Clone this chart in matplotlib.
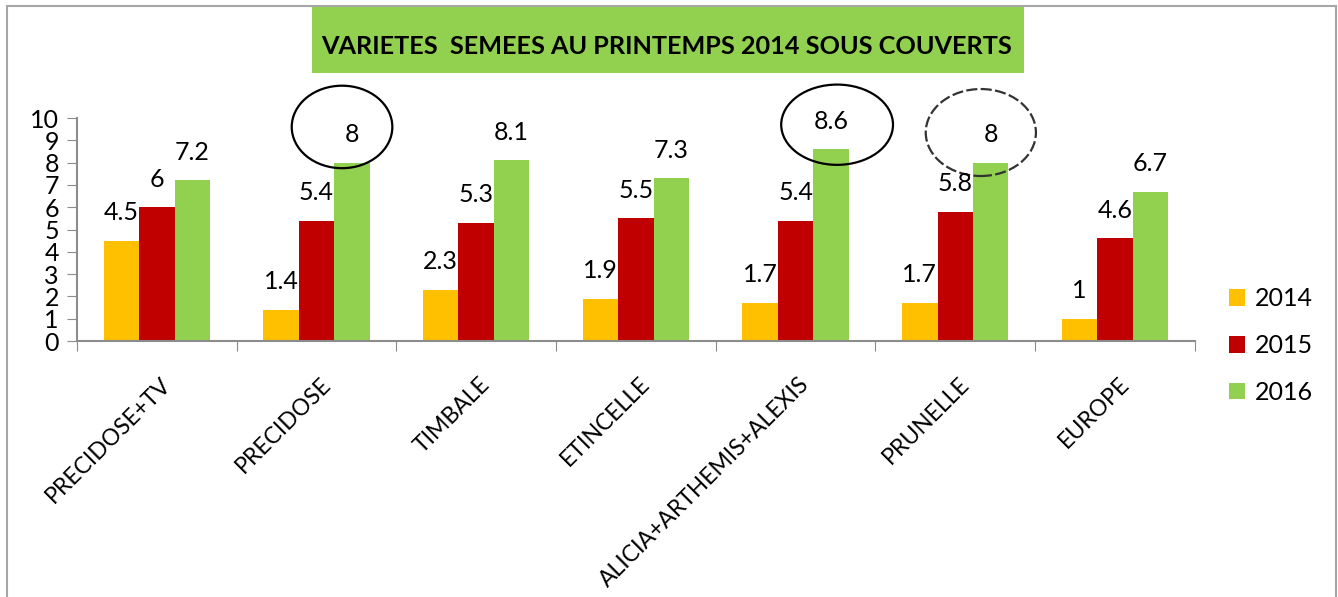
import matplotlib.pyplot as plt
from matplotlib.patches import Ellipse, Rectangle
import numpy as np

plt.rcParams['font.family'] = ['Lato', 'DejaVu Sans']

varietes = ['PRECIDOSE+TV', 'PRECIDOSE', 'TIMBALE', 'ETINCELLE',
            'ALICIA+ARTHEMIS+ALEXIS', 'PRUNELLE', 'EUROPE']
v2014 = [4.5, 1.4, 2.3, 1.9, 1.7, 1.7, 1]
v2015 = [6, 5.4, 5.3, 5.5, 5.4, 5.8, 4.6]
v2016 = [7.2, 8, 8.1, 7.3, 8.6, 8, 6.7]
annees = ['2014', '2015', '2016']
couleurs = ['#FFC000', '#C00000', '#92D050']

fig = plt.figure(figsize=(13.38, 5.97), dpi=100)
ax = fig.add_axes([0.0575, 0.4288, 0.8355, 0.3735])

# cadre gris autour du graphique
fig.patches.append(Rectangle((7 / 1338, -0.1), 1329 / 1338, 1.1 - 6 / 597,
                             transform=fig.transFigure, fill=False,
                             edgecolor='#a6a6a6', linewidth=1.5))

x = np.arange(len(varietes))
w = 0.222
for k, (vals, c, lab) in enumerate(zip([v2014, v2015, v2016], couleurs, annees)):
    pos = x + (k - 1) * w
    ax.bar(pos, vals, width=w, color=c, label=lab)
    for xi, v in zip(pos, vals):
        ax.annotate('%g' % v, (xi, v), xytext=(0, 12), textcoords='offset points',
                    ha='center', va='bottom', fontsize=18)

# cercles dessines a la main : (variete, decalage x, decalage y, largeur, hauteur, pointille)
cercles = [(1, 0.16, 1.6, 0.63, 3.7, False),
           (4, 0.26, 1.1, 0.70, 3.6, False),
           (5, 0.16, 1.35, 0.69, 3.9, True)]
for i, dx, dy, ew, eh, dash in cercles:
    e = Ellipse((x[i] + dx, v2016[i] + dy), ew, eh, fill=False,
                edgecolor='#333333' if dash else 'black', linewidth=1.6,
                linestyle=(0, (5, 1.5)) if dash else '-', clip_on=False)
    ax.add_patch(e)

ax.set_xlim(-0.5, len(varietes) - 0.5)
ax.set_ylim(0, 10)
ax.set_yticks(range(0, 11))
ax.tick_params(axis='y', labelsize=18, length=7, color='#8c8c8c', pad=6)
ax.set_xticks(np.arange(-0.5, len(varietes), 1))
ax.set_xticklabels([])
ax.tick_params(axis='x', length=7, color='#8c8c8c')
for i, nom in enumerate(varietes):
    ax.text(x[i] + 0.02, -1.45, nom, rotation=45, ha='right', va='top',
            rotation_mode='anchor', fontsize=16.5)

for s in ['top', 'right']:
    ax.spines[s].set_visible(False)
for s in ['left', 'bottom']:
    ax.spines[s].set_color('#8c8c8c')
    ax.spines[s].set_linewidth(1.5)

# titre dans un cadre vert
fig.patches.append(Rectangle((312 / 1338, 1 - 73 / 597), 712 / 1338, 66 / 597,
                             transform=fig.transFigure, facecolor='#92D050',
                             edgecolor='none'))
fig.text(667 / 1338, 1 - 47 / 597, 'VARIETES  SEMEES AU PRINTEMPS 2014 SOUS COUVERTS',
         ha='center', va='center', fontsize=18.2, fontweight='bold')

ax.legend(loc='center left', bbox_to_anchor=(1.01, -0.02), frameon=False,
          fontsize=18, handlelength=0.65, handleheight=0.65, handletextpad=0.4,
          labelspacing=0.95)

fig.savefig('out.png', dpi=100)
